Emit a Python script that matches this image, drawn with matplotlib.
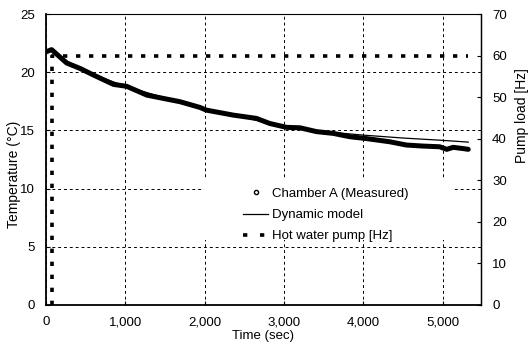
import matplotlib
matplotlib.use("Agg")
import matplotlib.pyplot as plt
from matplotlib.lines import Line2D
from matplotlib.patches import Rectangle
from matplotlib.ticker import FuncFormatter

plt.rcParams['font.family'] = ['Liberation Sans', 'DejaVu Sans']

# Measured temperature, Chamber A (sec, degC)
t_meas = [0, 70, 260, 430, 600, 850, 1015, 1270, 1475, 1690, 1940, 2020,
          2360, 2650, 2820, 3030, 3200, 3410, 3620, 3830, 4020, 4330, 4540,
          4750, 4960, 5050, 5130, 5250, 5320]
T_meas = [21.76, 21.95, 20.8, 20.33, 19.76, 18.96, 18.8, 18.04, 17.76, 17.47,
          16.98, 16.75, 16.32, 16.04, 15.6, 15.27, 15.23, 14.9, 14.75, 14.46,
          14.32, 14.03, 13.75, 13.66, 13.6, 13.38, 13.55, 13.45, 13.38]

# Dynamic model
t_model = [0, 70, 300, 600, 1000, 1500, 2000, 2500, 3000, 3500, 4000, 4500, 5000, 5320]
T_model = [21.76, 21.95, 20.8, 19.8, 18.8, 17.8, 16.9, 16.1, 15.35, 14.9, 14.6, 14.35, 14.15, 14.0]

# Hot water pump load (Hz)
t_pump = [75, 75, 5320]
P_pump = [0, 60, 60]

fig = plt.figure(figsize=(5.32, 3.45), dpi=100)
ax = fig.add_axes([0.0865, 0.116, 0.8175, 0.843])
ax2 = ax.twinx()

ax.plot(t_meas, T_meas, color='black', lw=3.6, solid_capstyle='round',
        solid_joinstyle='round', zorder=3)
ax.plot(t_model, T_model, color='black', lw=0.9, zorder=4)
pump_style = (0, (1.2, 2.4))
ax2.plot(t_pump, P_pump, color='black', lw=2.6, linestyle=pump_style, zorder=3)

ax.set_xlim(0, 5480)
ax.set_ylim(0, 25)
ax2.set_ylim(0, 70)
ax.set_xticks([0, 1000, 2000, 3000, 4000, 5000])
ax.xaxis.set_major_formatter(FuncFormatter(lambda v, p: f"{int(v):,}"))
ax.set_yticks([0, 5, 10, 15, 20, 25])
ax2.set_yticks([0, 10, 20, 30, 40, 50, 60, 70])

ax.grid(True, color='black', linestyle=(0, (3, 3)), linewidth=0.7)
ax.set_axisbelow(True)

# white background behind the legend hides the grid there
ax.add_patch(Rectangle((0.361, 0.223), 0.575, 0.207, transform=ax.transAxes,
                       facecolor='white', edgecolor='none', zorder=1))

ax.tick_params(axis='both', direction='in', length=3, labelsize=9.5, pad=8)
ax2.tick_params(axis='y', direction='in', length=3, labelsize=9.5, pad=8)

for s in ['left', 'bottom']:
    ax.spines[s].set_linewidth(1.3)
ax.spines['top'].set_linestyle((0, (1, 1)))
ax.spines['top'].set_linewidth(0.8)
ax2.spines['top'].set_visible(False)
ax2.spines['right'].set_linewidth(1.0)
ax2.spines['left'].set_visible(False)
ax2.spines['bottom'].set_visible(False)

ax.set_xlabel('Time (sec)', fontsize=9.5, labelpad=1)
ax.set_ylabel('Temperature (°C)', fontsize=10)
ax.yaxis.set_label_coords(-0.058, 0.45)
ax2.set_ylabel('Pump load [Hz]', fontsize=10)
ax2.yaxis.set_label_coords(1.078, 0.65)
ax.xaxis.set_label_coords(0.5, -0.085)

handles = [
    Line2D([], [], marker='o', markersize=3, markerfacecolor='white',
           markeredgecolor='black', linestyle='none'),
    Line2D([], [], color='black', lw=0.9),
    Line2D([], [], color='black', lw=2.6, linestyle=(0, (1.2, 3.5))),
]
labels = ['Chamber A (Measured)', 'Dynamic model', 'Hot water pump [Hz]']
leg = fig.legend(handles, labels, loc='upper left', bbox_to_anchor=(0.457, 0.456),
                 frameon=False, fontsize=9.5, handlelength=1.9, handletextpad=0.3,
                 labelspacing=0.68, borderaxespad=0, borderpad=0)

fig.savefig('out.png', dpi=100)
